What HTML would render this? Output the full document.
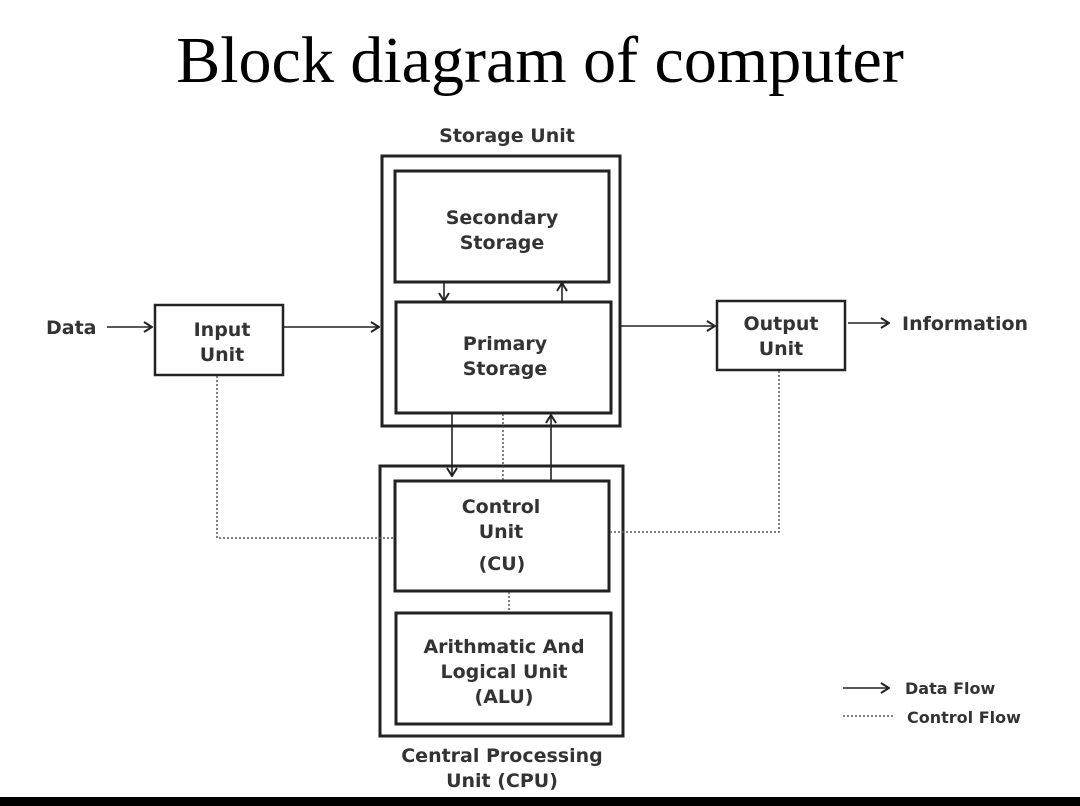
<!DOCTYPE html>
<html><head><meta charset="utf-8"><style>
html,body{margin:0;padding:0;background:#fff;}
svg{display:block;}
text{font-family:"DejaVu Sans","Liberation Sans",sans-serif;font-weight:bold;fill:#333;font-size:19px;}
.t{font-family:"Liberation Serif",serif;font-weight:normal;fill:#000;font-size:66px;}
</style></head><body>
<svg width="1080" height="806" viewBox="0 0 1080 806" xmlns="http://www.w3.org/2000/svg">
<defs>
<marker id="a" markerWidth="10" markerHeight="12" refX="9" refY="6" orient="auto" markerUnits="userSpaceOnUse">
<path d="M1,1 L9,6 L1,11" fill="none" stroke="#222" stroke-width="2"/>
</marker>
</defs>
<rect width="1080" height="806" fill="#fff"/>
<text class="t" x="540" y="82" text-anchor="middle">Block diagram of computer</text>
<g fill="none" stroke="#222">
<rect x="382" y="156" width="238" height="270" stroke-width="3"/>
<rect x="395" y="171" width="214" height="111" stroke-width="3"/>
<rect x="396" y="302" width="215" height="111" stroke-width="3"/>
<rect x="155" y="305" width="128" height="70" stroke-width="2.5"/>
<rect x="717" y="301" width="128" height="69" stroke-width="2.5"/>
<rect x="380" y="466" width="243" height="270" stroke-width="3"/>
<rect x="395" y="481" width="214" height="110" stroke-width="3"/>
<rect x="396" y="613" width="215" height="111" stroke-width="3"/>
<g stroke-width="1.6" marker-end="url(#a)">
<line x1="107" y1="327" x2="152" y2="327"/>
<line x1="283" y1="327" x2="379" y2="327"/>
<line x1="620" y1="326" x2="715" y2="326"/>
<line x1="848" y1="323" x2="889" y2="323"/>
<line x1="444" y1="283" x2="444" y2="301"/>
<line x1="562" y1="301" x2="562" y2="283"/>
<line x1="452" y1="414" x2="452" y2="476"/>
<line x1="551" y1="480" x2="551" y2="415"/>
<line x1="843" y1="688" x2="889" y2="688"/>
</g>
<g stroke-width="1.5" stroke-dasharray="2,2" stroke="#555">
<line x1="503" y1="414" x2="503" y2="480"/>
<line x1="509" y1="592" x2="509" y2="612"/>
<polyline points="217,376 217,538 394,538"/>
<polyline points="779,371 779,532 610,532"/>
<line x1="843" y1="716" x2="895" y2="716"/>
</g>
</g>
<g text-anchor="middle">
<text x="507" y="142">Storage Unit</text>
<text x="502" y="224">Secondary</text>
<text x="502" y="249">Storage</text>
<text x="505" y="350">Primary</text>
<text x="505" y="375">Storage</text>
<text x="222" y="336">Input</text>
<text x="222" y="361">Unit</text>
<text x="781" y="330">Output</text>
<text x="781" y="355">Unit</text>
<text x="501" y="513">Control</text>
<text x="501" y="538">Unit</text>
<text x="502" y="570">(CU)</text>
<text x="504" y="653">Arithmatic And</text>
<text x="504" y="678">Logical Unit</text>
<text x="504" y="703">(ALU)</text>
<text x="502" y="762">Central Processing</text>
<text x="502" y="787">Unit (CPU)</text>
</g>
<text x="46" y="334">Data</text>
<text x="902" y="330">Information</text>
<text x="905" y="694" style="font-size:16px">Data Flow</text>
<text x="907" y="723" style="font-size:16px">Control Flow</text>
<rect x="0" y="797" width="1080" height="9" fill="#000"/>
</svg>
</body></html>
